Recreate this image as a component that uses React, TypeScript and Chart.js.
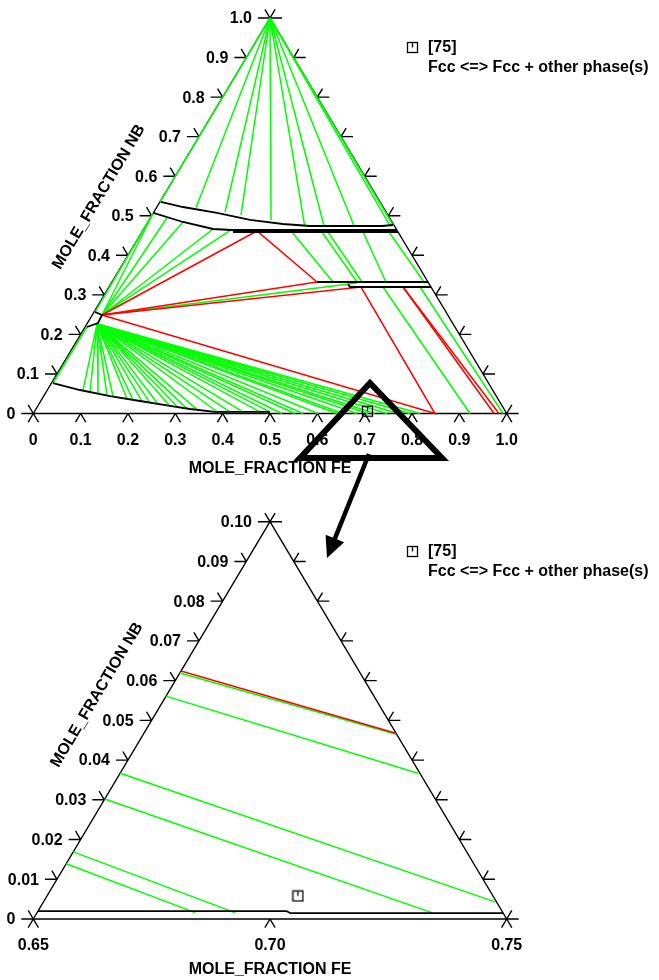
import { useEffect, useRef } from "react";
import { Chart, registerables } from "chart.js";

Chart.register(...registerables);

type P = [number, number]; // [mole fraction Fe, mole fraction Nb]

// ---------------- upper diagram (full range) ----------------
const topFeTicks = [0, 0.1, 0.2, 0.3, 0.4, 0.5, 0.6, 0.7, 0.8, 0.9, 1.0];
const topFeTickLabels = ["0", "0.1", "0.2", "0.3", "0.4", "0.5", "0.6", "0.7", "0.8", "0.9", "1.0"];
const topNbTicks = [0, 0.1, 0.2, 0.3, 0.4, 0.5, 0.6, 0.7, 0.8, 0.9, 1.0];
const topNbTickLabels = ["0", "0.1", "0.2", "0.3", "0.4", "0.5", "0.6", "0.7", "0.8", "0.9", "1.0"];

const topApex: P = [0.0, 1.0];
const topApexTieEnds: P[] = [
  [0.0, 0.535], [0.0833, 0.5209], [0.1503, 0.5095], [0.1878, 0.5019], [0.2575, 0.4893],
  [0.3356, 0.4751], [0.3771, 0.4741], [0.4405, 0.4741], [0.5166, 0.4741], [0.5215, 0.4766],
];
const topUpperBoundary: P[] = [
  [0.002, 0.5348], [0.0551, 0.5221], [0.1345, 0.507], [0.2131, 0.4893], [0.2879, 0.4791],
  [0.3475, 0.4741], [0.4996, 0.4741], [0.5215, 0.4766],
];
const topLowerBoundaryA: P[] = [[0.0, 0.507], [0.0741, 0.4842], [0.1464, 0.4665], [0.1856, 0.464], [0.536, 0.464]];
const topLowerBoundaryB: P[] = [[0.1923, 0.4589], [0.5411, 0.4589]];
const topMidBoundaryA: P[] = [[0.433, 0.3325], [0.6675, 0.3325]];
const topMidBoundaryB: P[] = [[0.5011, 0.3274], [0.5091, 0.3198], [0.6802, 0.3198]];
const topLowFeBoundary: P[] = [
  [0.003, 0.0771], [0.0689, 0.0594], [0.1399, 0.0442], [0.2096, 0.0316], [0.2793, 0.019],
  [0.3253, 0.0114], [0.3818, 0.004], [0.498, 0.004],
];
const topNotch: P[] = [[0.002, 0.2566], [0.0206, 0.2491], [0.0223, 0.2288], [0.004, 0.2187]];

const topU: P = [0.0206, 0.2491];
const topL: P = [0.0215, 0.2265];
const topUFanEnds: P[] = [[0.0, 0.507], [0.035, 0.4963], [0.0741, 0.4842], [0.1464, 0.4665], [0.1856, 0.464], [0.5184, 0.33]];
const topEdgeTies: P[][] = [
  [[0.002, 0.2566], [0.0, 0.507]],
  [[0.004, 0.2187], [0.003, 0.0771]],
];
const topP1: P = [0.2418, 0.4614];
const topP2: P = [0.433, 0.3325];
const topQ1: P = [0.5323, 0.3198];
const topQ2: P = [0.8485, 0.0];
const topRedThin: P[][] = [
  [[0.6211, 0.3198], [0.9732, 0.0]],
  [[0.6211, 0.3198], [0.9837, 0.0]],
];
const topMidTies: P[][] = [
  [[0.317, 0.4589], [0.4668, 0.3325]],
  [[0.3803, 0.4589], [0.5175, 0.3325]],
  [[0.393, 0.4589], [0.5281, 0.3325]],
  [[0.467, 0.4589], [0.5787, 0.3325]],
  [[0.5219, 0.4589], [0.659, 0.3325]],
];
const topFccTies: P[][] = [
  [[0.5788, 0.3198], [0.9225, 0.0]],
  [[0.657, 0.3198], [0.9922, 0.0]],
];
const topLFanEnds: P[] = [
  [0.076, 0.0579], [0.0926, 0.0544], [0.1115, 0.0503], [0.1328, 0.0458], [0.1469, 0.043],
  [0.1793, 0.0372], [0.1933, 0.0346], [0.2142, 0.0308], [0.2328, 0.0273], [0.2514, 0.024],
  [0.2793, 0.019], [0.2977, 0.0159], [0.3185, 0.0124], [0.3406, 0.0104], [0.3855, 0.0051],
  [0.4135, 0.004], [0.4409, 0.004], [0.4769, 0.004], [0.498, 0.004], [0.5254, 0.0],
  [0.5528, 0.0], [0.5697, 0.0], [0.6014, 0.0], [0.6415, 0.0], [0.6542, 0.0], [0.6838, 0.0],
  [0.707, 0.0], [0.7218, 0.0], [0.7472, 0.0], [0.7705, 0.0], [0.7958, 0.0], [0.8169, 0.0],
];
const topMarker: P = [0.703, 0.0058];

// ---------------- lower diagram (zoom Fe 0.65-0.75, Nb 0-0.10) ----------------
const zoomFeTicks = [0.65, 0.7, 0.75];
const zoomFeTickLabels = ["0.65", "0.70", "0.75"];
const zoomNbTicks = [0, 0.01, 0.02, 0.03, 0.04, 0.05, 0.06, 0.07, 0.08, 0.09, 0.1];
const zoomNbTickLabels = ["0", "0.01", "0.02", "0.03", "0.04", "0.05", "0.06", "0.07", "0.08", "0.09", "0.10"];

const zoomRedLines: P[][] = [[[0.65, 0.0624], [0.703, 0.0468]]];
const zoomGreenLines: P[][] = [
  [[0.65, 0.0619], [0.7034, 0.0465]],
  [[0.65, 0.0561], [0.7129, 0.0367]],
  [[0.65, 0.0367], [0.7454, 0.0043]],
  [[0.65, 0.0302], [0.7334, 0.0016]],
  [[0.65, 0.0169], [0.6918, 0.0016]],
  [[0.65, 0.0139], [0.6834, 0.0016]],
];
const zoomBoundary: P[] = [[0.65, 0.002], [0.7025, 0.002], [0.7035, 0.0015], [0.7485, 0.0015]];
const zoomMarker: P = [0.703, 0.0058];

// ---------------- annotation (zoom mark), in upper-diagram cartesian units ----------------
const zoomMarkTriangle: [number, number][] = [[0.7112, 0.0771], [0.5634, -0.1125], [0.8633, -0.1125]];
const zoomArrow: [number, number][] = [[0.7091, -0.1024], [0.6204, -0.3654]];

const FE_TITLE = "MOLE_FRACTION FE";
const NB_TITLE = "MOLE_FRACTION NB";
const LEGEND_ID = "[75]";
const LEGEND_TEXT = "Fcc <=> Fcc + other phase(s)";

const W = 659;
const H = 980;
const FONT = 'bold 16px "Liberation Sans", Arial, Helvetica, sans-serif';
const GREEN = "#00ff00";
const RED = "#ff0000";
const BLACK = "#000000";

const xy = (p: P) => ({ x: p[0] + p[1] / 2, y: p[1] });

type Spec = {
  xId: string; yId: string; feMin: number; span: number;
  feTicks: number[]; feLabels: string[]; nbTicks: number[]; nbLabels: string[];
  feTitleDy: number; nbTitleAt: [number, number]; legendY: number;
};

const specs: Spec[] = [
  {
    xId: "xT", yId: "yT", feMin: 0, span: 1,
    feTicks: topFeTicks, feLabels: topFeTickLabels, nbTicks: topNbTicks, nbLabels: topNbTickLabels,
    feTitleDy: 55, nbTitleAt: [99, 197], legendY: 47.5,
  },
  {
    xId: "xB", yId: "yB", feMin: 0.65, span: 0.1,
    feTicks: zoomFeTicks, feLabels: zoomFeTickLabels, nbTicks: zoomNbTicks, nbLabels: zoomNbTickLabels,
    feTitleDy: 51, nbTitleAt: [97, 695], legendY: 551.5,
  },
];

function unit(ax: number, ay: number): [number, number] {
  const l = Math.hypot(ax, ay);
  return [ax / l, ay / l];
}

function makeSymbol(): HTMLCanvasElement {
  const c = document.createElement("canvas");
  c.width = 13;
  c.height = 13;
  const g = c.getContext("2d")!;
  g.strokeStyle = "#000";
  g.lineWidth = 1.3;
  g.strokeRect(1.5, 1.5, 10, 10);
  g.beginPath();
  g.moveTo(6.5, 1.5);
  g.lineTo(6.5, 6.5);
  g.stroke();
  return c;
}

function drawDiagram(chart: any, s: Spec) {
  const ctx: CanvasRenderingContext2D = chart.ctx;
  const sx = chart.scales[s.xId];
  const sy = chart.scales[s.yId];
  const pt = (fe: number, nb: number): [number, number] => [sx.getPixelForValue(fe + nb / 2), sy.getPixelForValue(nb)];
  const f0 = s.feMin;
  const f1 = s.feMin + s.span;
  const n1 = s.span;
  const BL = pt(f0, 0);
  const BR = pt(f1, 0);
  const AP = pt(f0, n1);
  const uL = unit(AP[0] - BL[0], AP[1] - BL[1]);
  const uR = unit(AP[0] - BR[0], AP[1] - BR[1]);
  const D = 10;
  const HL = 12;
  const eps = s.span * 1e-6;
  ctx.save();
  ctx.strokeStyle = BLACK;
  ctx.lineWidth = 1.4;
  ctx.beginPath();
  ctx.moveTo(BL[0], BL[1]);
  ctx.lineTo(BR[0], BR[1]);
  ctx.lineTo(AP[0], AP[1]);
  ctx.closePath();
  const seg = (p: [number, number], dx: number, dy: number) => {
    ctx.moveTo(p[0], p[1]);
    ctx.lineTo(p[0] + dx, p[1] + dy);
  };
  for (const v of s.feTicks) {
    if (Math.abs(v - f0) < eps || Math.abs(v - f1) < eps) continue;
    const p = pt(v, 0);
    seg(p, -uL[0] * D, -uL[1] * D);
    seg(p, -uR[0] * D, -uR[1] * D);
  }
  for (const v of s.nbTicks) {
    if (v < eps || Math.abs(v - n1) < eps) continue;
    const pl = pt(f0, v);
    seg(pl, -HL, 0);
    seg(pl, uR[0] * D, uR[1] * D);
    const pr = pt(f1 - v, v);
    seg(pr, HL, 0);
    seg(pr, uL[0] * D, uL[1] * D);
  }
  seg(BL, -HL, 0); seg(BL, -uL[0] * D, -uL[1] * D); seg(BL, uR[0] * D, uR[1] * D); seg(BL, -uR[0] * D, -uR[1] * D);
  seg(BR, HL, 0); seg(BR, -uR[0] * D, -uR[1] * D); seg(BR, uL[0] * D, uL[1] * D); seg(BR, -uL[0] * D, -uL[1] * D);
  seg(AP, -HL, 0); seg(AP, HL, 0); seg(AP, uL[0] * D, uL[1] * D); seg(AP, uR[0] * D, uR[1] * D);
  ctx.stroke();

  ctx.fillStyle = BLACK;
  ctx.font = FONT;
  ctx.textBaseline = "middle";
  ctx.textAlign = "right";
  s.nbTicks.forEach((v, i) => {
    const p = pt(f0, v);
    ctx.fillText(s.nbLabels[i], p[0] - 18, p[1] + 1);
  });
  ctx.textAlign = "center";
  s.feTicks.forEach((v, i) => {
    const p = pt(v, 0);
    ctx.fillText(s.feLabels[i], p[0], p[1] + 27);
  });
  ctx.fillText(FE_TITLE, AP[0], BL[1] + s.feTitleDy);
  ctx.save();
  ctx.translate(s.nbTitleAt[0], s.nbTitleAt[1]);
  ctx.rotate(Math.atan2(uL[1], uL[0]));
  ctx.fillText(NB_TITLE, 0, 0);
  ctx.restore();
  ctx.restore();
}

export default function App() {
  const ref = useRef<HTMLCanvasElement>(null);
  useEffect(() => {
    const canvas = ref.current;
    if (!canvas) return;
    const symbol = makeSymbol();
    const datasets: any[] = [];
    const add = (pts: P[], color: string, width: number, ax: "T" | "B", order: number) => {
      datasets.push({
        data: pts.map(xy),
        showLine: true,
        borderColor: color,
        backgroundColor: color,
        borderWidth: width,
        pointRadius: 0,
        pointHoverRadius: 0,
        tension: 0,
        fill: false,
        xAxisID: "x" + ax,
        yAxisID: "y" + ax,
        order,
      });
    };
    // green tie-lines
    topApexTieEnds.forEach((e) => add([topApex, e], GREEN, 1.5, "T", 3));
    topUFanEnds.forEach((e) => add([topU, e], GREEN, 1.5, "T", 3));
    topLFanEnds.forEach((e) => add([topL, e], GREEN, 1.5, "T", 3));
    topEdgeTies.forEach((l) => add(l, GREEN, 1.5, "T", 3));
    topMidTies.forEach((l) => add(l, GREEN, 1.5, "T", 3));
    topFccTies.forEach((l) => add(l, GREEN, 1.5, "T", 3));
    zoomGreenLines.forEach((l) => add(l, GREEN, 1.5, "B", 3));
    // red three-phase triangles
    add([topU, topP1, topP2, topU], RED, 1.5, "T", 2);
    add([topU, topQ1, topQ2, topU], RED, 1.5, "T", 2);
    topRedThin.forEach((l) => add(l, RED, 1.5, "T", 2));
    zoomRedLines.forEach((l) => add(l, RED, 1.5, "B", 2));
    // black phase boundaries
    [topUpperBoundary, topLowerBoundaryA, topLowerBoundaryB, topMidBoundaryA, topMidBoundaryB, topLowFeBoundary, topNotch]
      .forEach((l) => add(l, BLACK, 1.8, "T", 1));
    add(zoomBoundary, BLACK, 1.8, "B", 1);
    // markers
    datasets.push({
      data: [xy(topMarker)], showLine: false, pointStyle: symbol, pointRadius: 6, pointHoverRadius: 6,
      xAxisID: "xT", yAxisID: "yT", order: 0,
    });
    datasets.push({
      data: [xy(zoomMarker)], showLine: false, pointStyle: symbol, pointRadius: 6, pointHoverRadius: 6,
      xAxisID: "xB", yAxisID: "yB", order: 0,
    });

    const framePlugin = {
      id: "ternaryFrame",
      beforeDatasetsDraw(chart: any) {
        specs.forEach((s) => drawDiagram(chart, s));
      },
      afterDatasetsDraw(chart: any) {
        const ctx: CanvasRenderingContext2D = chart.ctx;
        const sx = chart.scales.xT;
        const sy = chart.scales.yT;
        const px = (p: [number, number]): [number, number] => [sx.getPixelForValue(p[0]), sy.getPixelForValue(p[1])];
        ctx.save();
        // zoom mark triangle
        ctx.strokeStyle = BLACK;
        ctx.lineWidth = 6;
        ctx.lineJoin = "miter";
        ctx.beginPath();
        zoomMarkTriangle.forEach((p, i) => {
          const q = px(p);
          if (i === 0) ctx.moveTo(q[0], q[1]);
          else ctx.lineTo(q[0], q[1]);
        });
        ctx.closePath();
        ctx.stroke();
        // arrow
        const a = px(zoomArrow[0]);
        const b = px(zoomArrow[1]);
        const d = unit(b[0] - a[0], b[1] - a[1]);
        const n: [number, number] = [-d[1], d[0]];
        ctx.lineWidth = 4.5;
        ctx.lineCap = "butt";
        ctx.beginPath();
        ctx.moveTo(a[0], a[1]);
        ctx.lineTo(b[0] - d[0] * 15, b[1] - d[1] * 15);
        ctx.stroke();
        ctx.fillStyle = BLACK;
        ctx.beginPath();
        ctx.moveTo(b[0], b[1]);
        ctx.lineTo(b[0] - d[0] * 21 + n[0] * 10, b[1] - d[1] * 21 + n[1] * 10);
        ctx.lineTo(b[0] - d[0] * 21 - n[0] * 10, b[1] - d[1] * 21 - n[1] * 10);
        ctx.closePath();
        ctx.fill();
        // legends
        ctx.font = FONT;
        ctx.textAlign = "left";
        ctx.textBaseline = "middle";
        specs.forEach((s) => {
          ctx.drawImage(symbol, 412.5 - 6.5, s.legendY - 6.5);
          ctx.fillText(LEGEND_ID, 428, s.legendY);
          ctx.fillText(LEGEND_TEXT, 428, s.legendY + 20);
        });
        ctx.restore();
      },
    };

    const hidden = { type: "linear", display: false, bounds: "data" };
    const chart = new Chart(canvas, {
      type: "scatter",
      data: { datasets },
      options: {
        responsive: false,
        animation: false,
        devicePixelRatio: 1,
        events: [],
        layout: { padding: 0, autoPadding: false },
        plugins: { legend: { display: false }, tooltip: { enabled: false }, title: { display: false } },
        scales: {
          xT: { ...hidden, min: -0.070342, max: 1.321718 },
          yT: { ...hidden, min: -1.432364, max: 1.045512 },
          xB: { ...hidden, min: 0.6429658, max: 0.7821718 },
          yB: { ...hidden, min: -0.015354, max: 0.231311 },
        },
      } as any,
      plugins: [framePlugin],
    });
    return () => chart.destroy();
  }, []);
  return (
    <div style={{ position: "absolute", left: 0, top: 0, width: W, height: H, background: "#fff" }}>
      <canvas ref={ref} width={W} height={H} style={{ display: "block", width: W, height: H }} />
    </div>
  );
}
